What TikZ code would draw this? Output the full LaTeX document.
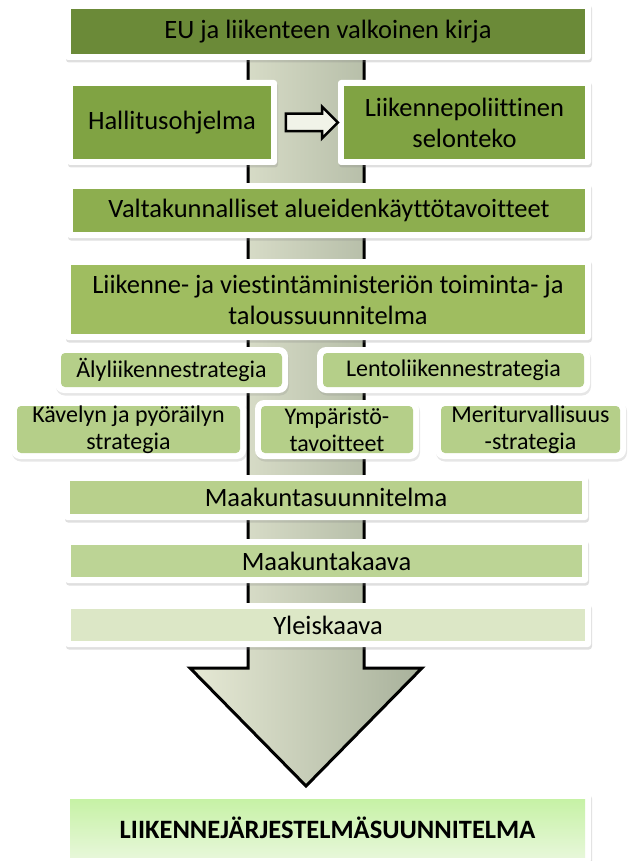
\documentclass[tikz,border=0pt]{standalone}
\usepackage{fontspec}
\setmainfont[Ligatures=NoCommon]{Carlito}
\usepackage{tikz}
\usetikzlibrary{shapes.arrows, shadows, calc}
\definecolor{euolive}{HTML}{6B8A38}
\definecolor{govgreen}{HTML}{80A343}
\definecolor{valtagreen}{HTML}{8DAE4F}
\definecolor{lvmgreen}{HTML}{9FBD60}
\definecolor{stratgreen}{HTML}{B5CF89}
\definecolor{maaksgreen}{HTML}{B8D08C}
\definecolor{maakkgreen}{HTML}{BCD495}
\definecolor{yleisgreen}{HTML}{DCE7C6}
\definecolor{ljstop}{HTML}{C3F1A0}
\definecolor{ljsbottom}{HTML}{EAF8DE}
\definecolor{arrowlight}{HTML}{E6E9D5}
\definecolor{arrowdark}{HTML}{A8B19B}
\definecolor{pointerfill}{HTML}{F1F3E8}

\tikzset{
  planbox/.style={fill=white, rounded corners=3pt, inner sep=0pt, align=center,
    font=\fontsize{26.5}{31}\selectfont,
    drop shadow={shadow xshift=1pt, shadow yshift=-2.5pt, opacity=0.25},
    path picture={\fill[#1, sharp corners] ([shift={(6pt,6pt)}]path picture bounding box.south west)
      rectangle ([shift={(-6pt,-6pt)}]path picture bounding box.north east);}},
  stratbox/.style={fill=white, rounded corners=9pt, inner sep=0pt, align=center,
    font=\fontsize{24}{27}\selectfont,
    drop shadow={shadow xshift=1pt, shadow yshift=-2.5pt, opacity=0.2},
    path picture={\fill[stratgreen, rounded corners=4pt] ([shift={(6pt,6pt)}]path picture bounding box.south west)
      rectangle ([shift={(-6pt,-6pt)}]path picture bounding box.north east);}},
}

\begin{document}
\begin{tikzpicture}[x=1pt, y=-1pt]
    \useasboundingbox (0,0) rectangle (627,861);
    % big arrow behind the boxes
    \draw[line width=3pt, left color=arrowlight, right color=arrowdark]
        (248,40) -- (248,668) -- (190,668) -- (306,786) -- (422,668) -- (364,668) -- (364,40) -- cycle;

    \node[planbox=euolive, minimum width=526pt, minimum height=57pt] (eu) at (328,31.5) {EU ja liikenteen valkoinen kirja};
    \node[planbox=govgreen, minimum width=210pt, minimum height=85pt] (hallitus) at (172,122.5) {Hallitusohjelma};
    \node[planbox=govgreen, minimum width=253pt, minimum height=85pt] (selonteko) at (464.5,122.5) {Liikennepoliittinen\\selonteko};
    \node[single arrow, draw=black, line width=2.5pt, fill=pointerfill, inner sep=7.5pt,
          minimum height=52pt, single arrow head extend=7pt,
          single arrow head indent=0pt] (pointer) at ($(hallitus.east)!0.5!(selonteko.west)$) {};
    \node[planbox=valtagreen, minimum width=524pt, minimum height=55pt] (valta) at (329,210.5) {Valtakunnalliset alueidenkäyttötavoitteet};
    \node[planbox=lvmgreen, minimum width=526pt, minimum height=81pt] (lvm) at (328,299.5) {Liikenne- ja viestintäministeriön toiminta- ja\\taloussuunnitelma};

    \node[stratbox, minimum width=233pt, minimum height=46pt] (aly) at (171.5,370) {Älyliikennestrategia};
    \node[stratbox, minimum width=273pt, minimum height=46pt] (lento) at (453.5,370) {Lentoliikennestrategia};
    \node[stratbox, minimum width=235pt, minimum height=59pt] (kavely) at (128.5,429.5) {Kävelyn ja pyöräilyn\\strategia};
    \node[stratbox, minimum width=164pt, minimum height=59pt] (ymparisto) at (337,429.5) {Ympäristö-\\tavoitteet};
    \node[stratbox, minimum width=191pt, minimum height=59pt] (meri) at (530.5,429.5) {Meriturvallisuus\\-strategia};

    \node[planbox=maaksgreen, minimum width=524pt, minimum height=45pt] (maakuntasuun) at (326,497.5) {Maakuntasuunnitelma};
    \node[planbox=maakkgreen, minimum width=523pt, minimum height=44pt] (maakuntakaava) at (326.5,561) {Maakuntakaava};
    \node[planbox=yleisgreen, minimum width=526pt, minimum height=44pt] (yleiskaava) at (328,625) {Yleiskaava};

    \node[fill=white, rounded corners=3pt, inner sep=0pt, minimum width=527pt, minimum height=70pt,
          drop shadow={shadow xshift=1pt, shadow yshift=-2.5pt, opacity=0.25},
          font=\fontsize{26.5}{31}\selectfont\bfseries,
          path picture={\shade[top color=ljstop, bottom color=ljsbottom, sharp corners]
            ([shift={(6pt,6pt)}]path picture bounding box.south west)
            rectangle ([shift={(-6pt,-6pt)}]path picture bounding box.north east);}]
          (ljs) at (327.5,828) {LIIKENNEJÄRJESTELMÄSUUNNITELMA};
\end{tikzpicture}
\end{document}
